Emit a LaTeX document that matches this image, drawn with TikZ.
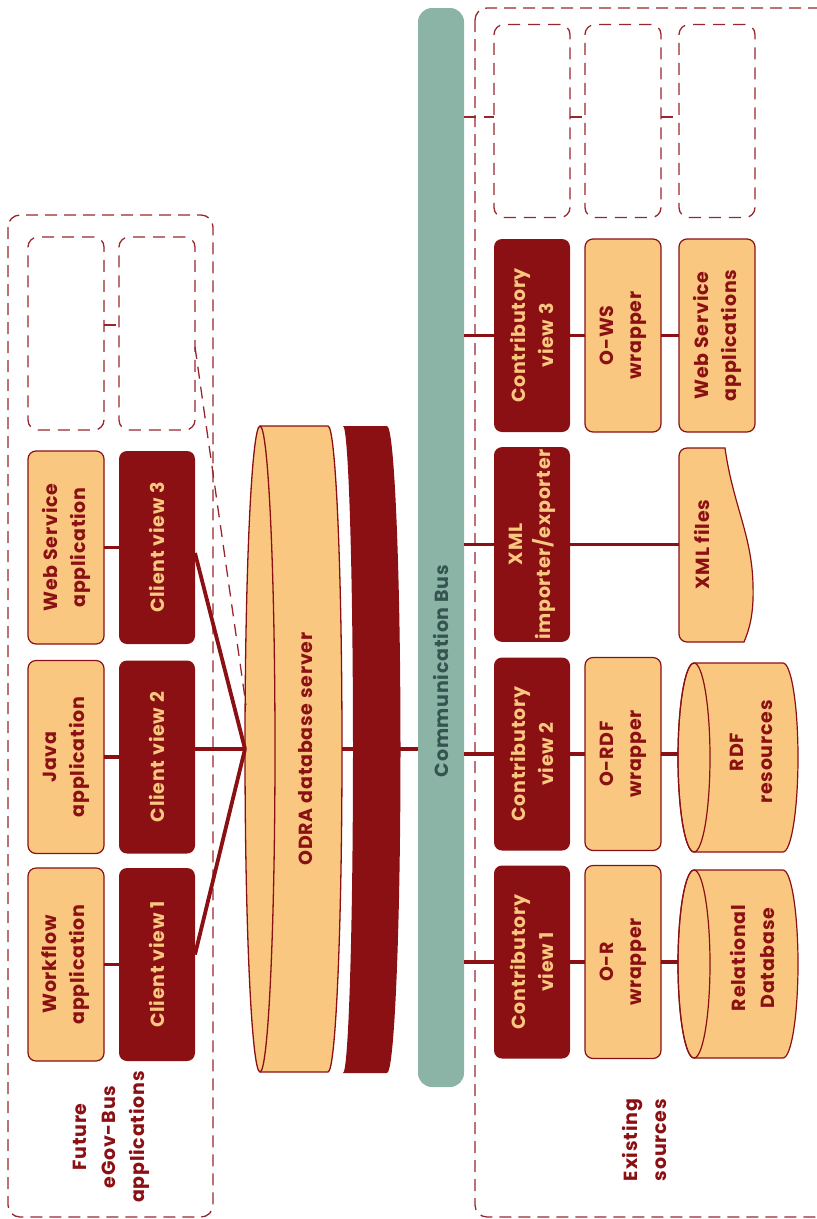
\documentclass[tikz,border=0pt]{standalone}
\usepackage{fontspec}
\setmainfont{Poppins}[LetterSpace=4]
\usetikzlibrary{calc}
\definecolor{dred}{RGB}{139,16,20}
\definecolor{lorange}{RGB}{249,199,128}
\definecolor{busteal}{RGB}{139,180,167}
\definecolor{bustext}{RGB}{52,84,78}
\definecolor{dashred}{RGB}{152,38,46}
\begin{document}
\begin{tikzpicture}[x=1pt,y=-1pt,
  box/.style={rotate=90, rounded corners=8pt, minimum width=193pt, minimum height=76pt, inner sep=2pt, outer sep=0pt, align=center, font=\bfseries\fontsize{19}{28}\selectfont},
  darkbox/.style={box, fill=dred, text=lorange},
  lightbox/.style={box, fill=lorange, draw=dred, line width=1.2pt, text=dred},
  ghostbox/.style={draw=dashred, line width=1.3pt, dash pattern=on 12pt off 8pt, rounded corners=10pt, minimum width=76pt, minimum height=193pt, inner sep=0pt, outer sep=0pt},
  group/.style={draw=dashred, line width=1.3pt, dash pattern=on 12pt off 7pt, rounded corners=12pt},
  link/.style={draw=dred, line width=3.8pt},
  ghostlink/.style={draw=dashred, line width=1.3pt, dash pattern=on 12pt off 8pt},
  lbl/.style={rotate=90, align=center, text=dred, inner sep=0pt, font=\bfseries\fontsize{19}{29}\selectfont},
]
\useasboundingbox (0,0) rectangle (817,1219);

% group frames
\draw[group] (8,215) rectangle (213,1217);
\draw[group] (475,8) rectangle (830,1217);

% communication bus
\node[fill=busteal, rounded corners=14pt, minimum width=46pt, minimum height=1079pt, inner sep=0pt, outer sep=0pt] (bus) at (441,547.5) {};
\node[rotate=90, text=bustext, font=\bfseries\fontsize{19}{28}\selectfont] (bustxt) at (441,671) {Communication Bus};

% ODRA database server (cylinder)
\fill[lorange] (260,426) -- (328,426) arc[start angle=-90, end angle=90, x radius=14, y radius=323] -- (260,1072) arc[start angle=90, end angle=270, x radius=15, y radius=323] -- cycle;
\draw[dred, line width=1.3pt] (260,426) -- (328,426) arc[start angle=-90, end angle=90, x radius=14, y radius=323] -- (260,1072);
\draw[dred, line width=1.3pt] (260,749) ellipse [x radius=15, y radius=323];
\node[lbl] (odra) at (306,749) {ODRA database server};
\coordinate (odraW) at (245,749);
\coordinate (odraE) at (342,749);
\coordinate (odraG) at (246,705);
% dark band
\fill[dred] (343,426) -- (387,426) arc[start angle=-90, end angle=90, x radius=13.5, y radius=323.5] -- (343,1073) arc[start angle=90, end angle=-90, x radius=10, y radius=323.5] -- cycle;

% left ghost boxes
\node[ghostbox] (ga) at (66,333.5) {};
\node[ghostbox] (gb) at (157,333.5) {};
\draw[ghostlink] ([yshift=8.5pt]ga.east) -- ([yshift=8.5pt]gb.west);
\draw[ghostlink] ([yshift=-13.5pt]gb.east) -- (odraG);

% left column
\node[lightbox] (wsa) at (66,547.5) {Web Service\\application};
\node[lightbox] (java) at (66,757) {Java\\application};
\node[lightbox] (wf) at (66,964.5) {Workflow\\application};
\node[darkbox] (cv3) at (157,547.5) {Client view 3};
\node[darkbox] (cv2) at (157,757) {Client view 2};
\node[darkbox] (cv1) at (157,964.5) {Client view 1};

\draw[link] (wsa.south) -- (cv3.north);
\draw[link] (java.south) -- (cv2.north);
\draw[link] (wf.south) -- (cv1.north);
\draw[link] ([yshift=-5.5pt]cv3.south) -- (odraW);
\draw[link] ([yshift=8pt]cv2.south) -- (odraW);
\draw[link] ([yshift=10pt]cv1.south) -- (odraW);
\draw[link] (odraE) -- (odraE -| bus.west);

% right ghost boxes
\node[ghostbox] (gr1) at (532,121) {};
\node[ghostbox] (gr2) at (623,121) {};
\node[ghostbox] (gr3) at (717,121) {};
\coordinate (g1w) at ([yshift=4pt]gr1.west);
\draw[ghostlink] (g1w -| bus.east) -- (g1w);
\draw[ghostlink] ([yshift=4pt]gr1.east) -- ([yshift=4pt]gr2.west);
\draw[ghostlink] ([yshift=4pt]gr2.east) -- ([yshift=4pt]gr3.west);

% right column
\node[darkbox] (cw3) at (532,335.5) {Contributory\\view 3};
\node[darkbox] (xmlie) at (532,544.5) {XML\\importer/exporter};
\node[darkbox] (cw2) at (532,754) {Contributory\\view 2};
\node[darkbox] (cw1) at (532,962) {Contributory\\view 1};
\node[lightbox] (ows) at (623,335.5) {O-WS\\wrapper};
\node[lightbox] (ordf) at (623,754) {O-RDF\\wrapper};
\node[lightbox] (orw) at (623,962) {O-R\\wrapper};
\node[lightbox] (wsapps) at (717,335.5) {Web Service\\applications};

% XML files (document shape)
\draw[dred, fill=lorange, line width=1.2pt] (744,642) -- (687,642) arc[start angle=90, end angle=180, radius=8] -- (679,456) arc[start angle=180, end angle=270, radius=8] -- (725,448) .. controls (733,505) and (752,535) .. (753,585) .. controls (754,615) and (749,630) .. (744,642) -- cycle;
\node[lbl] (xmlf) at (702,544.5) {XML files};
\coordinate (xmlfW) at (679,544.5);

% RDF resources (cylinder)
\draw[dred, fill=lorange, line width=1.2pt] (694,663) -- (783,663) arc[start angle=-90, end angle=90, x radius=15, y radius=94.5] -- (694,852) arc[start angle=90, end angle=270, x radius=16, y radius=94.5] -- cycle;
\draw[dred, line width=1.2pt] (694,757.5) ellipse [x radius=16, y radius=94.5];
\node[lbl] (rdf) at (751,752) {RDF\\resources};
\coordinate (rdfW) at (678,757.5);

% Relational Database (cylinder)
\draw[dred, fill=lorange, line width=1.2pt] (694,870) -- (783,870) arc[start angle=-90, end angle=90, x radius=15, y radius=94] -- (694,1058) arc[start angle=90, end angle=270, x radius=16, y radius=94] -- cycle;
\draw[dred, line width=1.2pt] (694,964) ellipse [x radius=16, y radius=94];
\node[lbl] (rdb) at (752,958) {Relational\\Database};
\coordinate (rdbW) at (678,964);

% right links
\draw[link] (bus.east |- cw3.north) -- (cw3.north);
\draw[link] (cw3.south) -- (ows.north);
\draw[link] (ows.south) -- (wsapps.north);
\draw[link] (bus.east |- xmlie.north) -- (xmlie.north);
\draw[link] (xmlie.south) -- (xmlie.south -| xmlfW);
\draw[link] (bus.east |- cw2.north) -- (cw2.north);
\draw[link] (cw2.south) -- (ordf.north);
\draw[link] (ordf.south) -- (ordf.south -| rdfW);
\draw[link] (bus.east |- cw1.north) -- (cw1.north);
\draw[link] (cw1.south) -- (orw.north);
\draw[link] (orw.south) -- (orw.south -| rdbW);

% group labels
\node[lbl] (future) at (111,1137) {Future\\eGov-Bus\\applications};
\node[lbl] (exist) at (644,1140) {Existing\\sources};
\end{tikzpicture}
\end{document}
